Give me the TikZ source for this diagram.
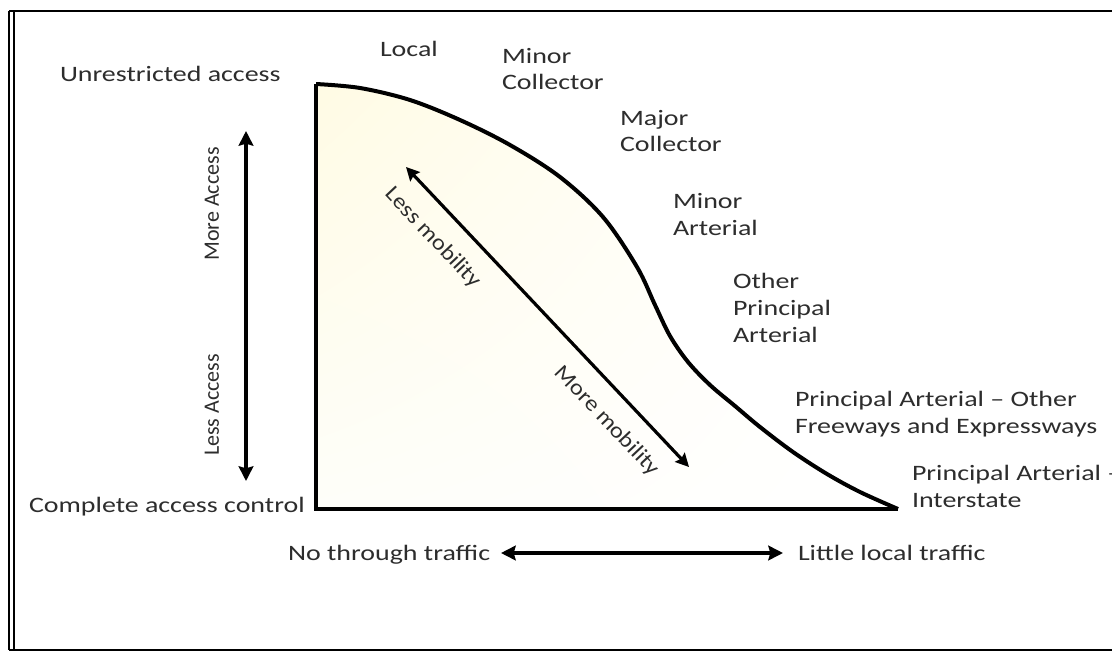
\documentclass[tikz,border=0pt]{standalone}
\usepackage{fontspec}
\setmainfont{Carlito}[FakeStretch=1.27]
\newfontfamily\plainfont{Carlito}
\newfontfamily\diagfont{Carlito}[FakeStretch=1.12]
\usetikzlibrary{arrows.meta,shadings}
\definecolor{txt}{RGB}{45,45,45}
\definecolor{paleyellow}{RGB}{255,251,228}
\definecolor{paleyellowb}{RGB}{254,254,249}
\begin{document}
\begin{tikzpicture}[x=0.75pt,y=-0.75pt,
  lbl/.style={inner sep=0pt, outer sep=0pt, text=txt, align=left,
    font=\fontsize{16.5}{20}\selectfont},
  vlbl/.style={inner sep=0pt, text=txt, rotate=90,
    font=\plainfont\fontsize{16.5}{20}\selectfont},
  dlbl/.style={inner sep=0pt, text=txt, rotate=-46.7,
    font=\diagfont\fontsize{16.5}{20}\selectfont},
  bigline/.style={line width=3pt, black},
  dblarrow/.style={line width=3pt, black, {Stealth[length=11pt,width=11pt,inset=1.5pt]}-{Stealth[length=11pt,width=11pt,inset=1.5pt]}},
  diagarrow/.style={line width=2.4pt, black, {Stealth[length=10pt,width=10pt,inset=1.5pt]}-{Stealth[length=10pt,width=10pt,inset=1.5pt]}},
  frame/.style={line width=1.1pt, black}]
\useasboundingbox (0,0) rectangle (1112,652);
\fill[white] (0,0) rectangle (1112,652);
% frame
\draw[frame] (9,11) -- (1125,11);
\draw[frame] (9,650) -- (1125,650);
\draw[frame] (9,11) -- (9,650);
\draw[frame] (14,11) -- (14,650);
% key points
\coordinate (top) at (316,84);
\coordinate (origin) at (316,509);
\coordinate (tail) at (898,509);
\def\curvepts{(316,84) (360,88) (410,100) (460,120) (510,145) (560,177) (603,217) (637,267) (655,305) (670,336) (688,362) (710,385) (735,406) (760,427) (793,452) (827,474) (860,492) (898,509)}
% shaded region
\shade[upper left=paleyellow, lower left=paleyellowb, upper right=white, lower right=white]
  plot[smooth, tension=0.55] coordinates {\curvepts}
  -- (origin) -- cycle;
% axes and curve
\draw[bigline] (top) -- (origin) -- (tail);
\draw[bigline, line join=round]
  plot[smooth, tension=0.55] coordinates {\curvepts};
% arrows
\coordinate (va1) at (246,131);
\coordinate (va2) at (246,481);
\draw[dblarrow] (va1) -- (va2);
\coordinate (da1) at (406,167);
\coordinate (da2) at (689,467);
\draw[diagarrow] (da1) -- (da2);
\coordinate (ha1) at (501,553);
\coordinate (ha2) at (783,553);
\draw[dblarrow] (ha1) -- (ha2);
% labels
\node[lbl, anchor=base west] (unres) at (60,82) {Unrestricted access};
\node[lbl, anchor=base west] (compl) at (29,512) {Complete access control};
\node[lbl, anchor=base west] (local) at (380,57) {Local};
\node[lbl, anchor=base west] (mincol) at (502,90) {Minor\\Collector};
\node[lbl, anchor=base west] (majcol) at (620,152) {Major\\Collector};
\node[lbl, anchor=base west] (minart) at (673,235) {Minor\\Arterial};
\node[lbl, anchor=base west] (opa) at (733,342) {Other\\Principal\\Arterial};
\node[lbl, anchor=base west] (pafe) at (795,433) {Principal Arterial – Other\\Freeways and Expressways};
\node[lbl, anchor=base west] (pai) at (912,507) {Principal Arterial –\\Interstate};
\node[lbl, anchor=base west] (nothru) at (288,560) {No through traffic};
\node[lbl, anchor=base west] (little) at (798,560) {Little local traffic};
\node[vlbl] (moreacc) at (212,204) {More Access};
\node[vlbl] (lessacc) at (212,405) {Less Access};
\node[dlbl] (lessmob) at (433,238) {Less mobility};
\node[dlbl] (moremob) at (607,421) {More mobility};
\end{tikzpicture}
\end{document}
